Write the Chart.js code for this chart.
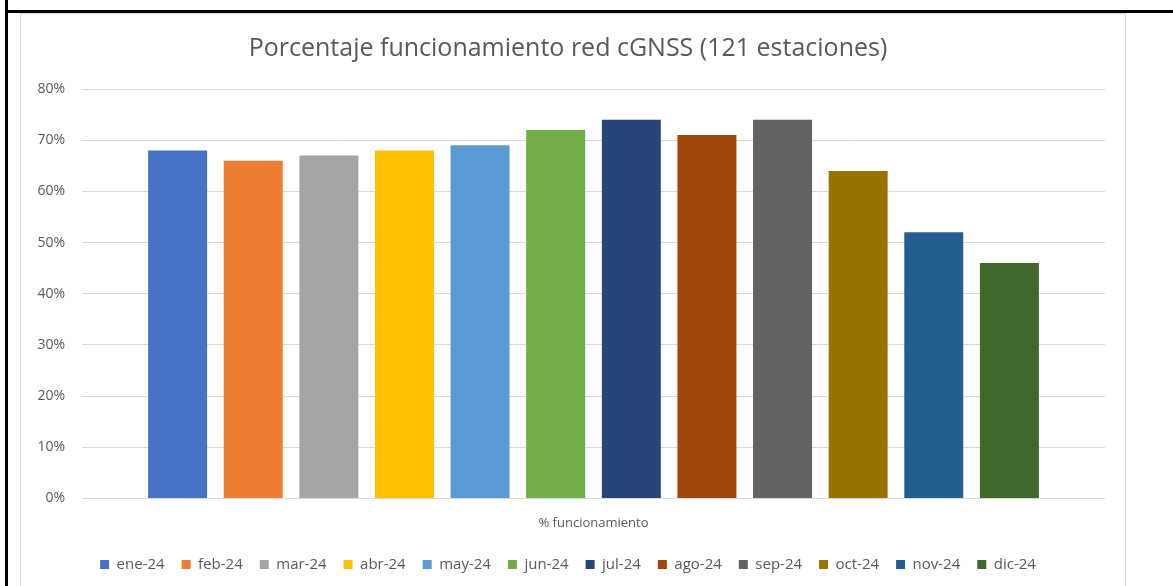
<!DOCTYPE html>
<html>
<head>
<meta charset="utf-8">
<script src="https://cdn.jsdelivr.net/npm/chart.js@4/dist/chart.umd.min.js"></script>
<style>
  html, body { margin: 0; padding: 0; background: #fff; }
  body { width: 1173px; height: 586px; position: relative; overflow: hidden; }
  #topline { position: absolute; left: 5px; top: 10px; width: 1168px; height: 3px; background: #000; }
  #leftline { position: absolute; left: 5px; top: 0; width: 3px; height: 586px; background: #000; }
  #box { position: absolute; left: 20px; top: 13px; width: 1106px; height: 580px; border: 1px solid #d9d9d9; box-sizing: border-box; }
  #wrap { position: absolute; left: 21px; top: 14px; width: 1104px; height: 572px; }
</style>
</head>
<body>
<div id="topline"></div>
<div id="leftline"></div>
<div id="box"></div>
<div id="wrap"><canvas id="c"></canvas></div>
<script>
const categories = ["% funcionamiento"];
const months = ["ene-24","feb-24","mar-24","abr-24","may-24","jun-24","jul-24","ago-24","sep-24","oct-24","nov-24","dic-24"];
const values = [68, 66, 67, 68, 69, 72, 74, 71, 74, 64, 52, 46];
const colors = ["#4472C4","#ED7D31","#A5A5A5","#FFC000","#5B9BD5","#70AD47","#264478","#9E480E","#636363","#997300","#255E91","#43682B"];
const yTicks = [0,10,20,30,40,50,60,70,80];

const FONT = "'Open Sans', 'DejaVu Sans', sans-serif";
const TXT = "#595959";

new Chart(document.getElementById('c'), {
  type: 'bar',
  data: {
    labels: categories,
    datasets: months.map((m, i) => ({
      label: m,
      data: [values[i]],
      backgroundColor: colors[i],
      borderWidth: 0
    }))
  },
  options: {
    responsive: true,
    maintainAspectRatio: false,
    animation: false,
    categoryPercentage: 0.887,
    barPercentage: 0.78,
    layout: { padding: { left: 10, right: 20, top: 8, bottom: 4 } },
    plugins: {
      title: {
        display: true,
        text: 'Porcentaje funcionamiento red cGNSS (121 estaciones)',
        color: TXT,
        font: { family: FONT, size: 25, weight: 'normal' },
        padding: { top: 12, bottom: 25 }
      },
      legend: {
        position: 'bottom',
        labels: {
          color: TXT,
          font: { family: FONT, size: 15 },
          boxWidth: 9,
          boxHeight: 9,
          padding: 17
        }
      },
      tooltip: { enabled: false }
    },
    scales: {
      x: {
        grid: { display: false },
        border: { display: false },
        ticks: { color: TXT, font: { family: FONT, size: 13 }, padding: 9 }
      },
      y: {
        min: 0,
        max: 80,
        afterBuildTicks: (axis) => { axis.ticks = yTicks.map(v => ({ value: v })); },
        afterFit: (axis) => { axis.width = 51; },
        grid: { color: '#d9d9d9', lineWidth: 1, drawTicks: false },
        border: { display: false },
        ticks: {
          color: TXT,
          font: { family: FONT, size: 14 },
          padding: 17,
          callback: (v) => v + '%'
        }
      }
    }
  }
});
</script>
</body>
</html>
